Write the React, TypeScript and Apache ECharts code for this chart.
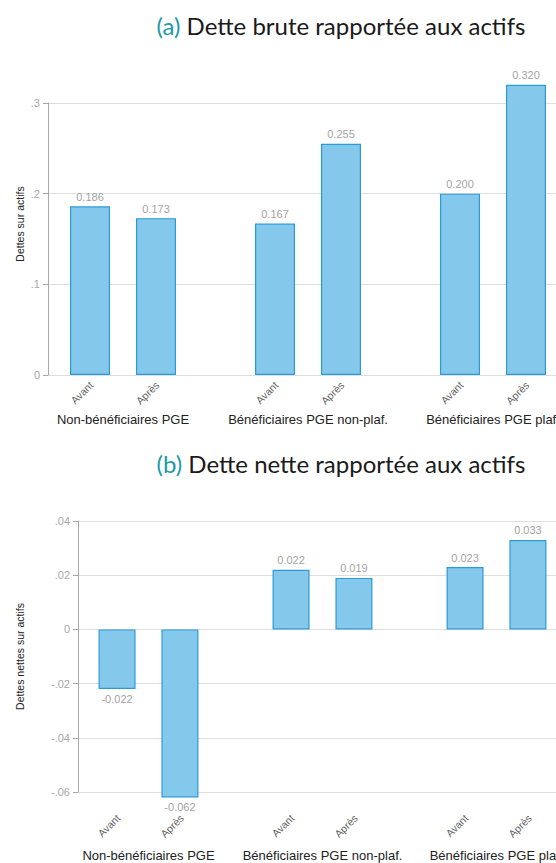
import React, { useEffect, useRef } from "react";
import * as echarts from "echarts";

const groups = ["Non-bénéficiaires PGE", "Bénéficiaires PGE non-plaf.", "Bénéficiaires PGE plaf."];
const periods = ["Avant", "Après"];
const grossBefore = [0.186, 0.167, 0.2];
const grossAfter = [0.173, 0.255, 0.32];
const netBefore = [-0.022, 0.022, 0.023];
const netAfter = [-0.062, 0.019, 0.033];
const titleA = "Dette brute rapportée aux actifs";
const titleB = "Dette nette rapportée aux actifs";
const nameA = "Dettes sur actifs";
const nameB = "Dettes nettes sur actifs";

const FILL = "#84c8ec";
const EDGE = "#2b9bd8";
const SANS = "'Liberation Sans', Arial, sans-serif";

function fmtTick(v: number) {
  const s = String(Number(v.toFixed(3)));
  return s.replace(/^(-?)0\./, "$1.");
}

function barSeries(values: number[], name: string, xi: number, yi: number, width: number, gap: string) {
  return {
    type: "bar",
    name,
    xAxisIndex: xi,
    yAxisIndex: yi,
    barWidth: width,
    barGap: gap,
    clip: false,
    itemStyle: { color: FILL, borderColor: EDGE, borderWidth: 1.2 },
    label: {
      show: true,
      color: "#a3a3a3",
      fontSize: 11,
      fontFamily: SANS,
      distance: 4,
      formatter: (p: any) => Number(p.value).toFixed(3),
    },
    data: values.map((v) => ({ value: v, label: { position: v < 0 ? "bottom" : "top" } })),
  };
}

function periodLabels(text: string, xi: number, yi: number, base: number, pos: number[]) {
  return {
    type: "scatter",
    xAxisIndex: xi,
    yAxisIndex: yi,
    symbolSize: 1,
    silent: true,
    clip: false,
    itemStyle: { color: "rgba(0,0,0,0)" },
    label: {
      show: true,
      formatter: text,
      position: pos,
      rotate: 45,
      align: "right",
      verticalAlign: "middle",
      fontSize: 10.5,
      fontFamily: SANS,
      color: "#333",
    },
    data: groups.map((g) => [g, base]),
  };
}

function valueAxis(grid: number, min: number, max: number, interval: number, name: string, nameGap: number, pad: number[]) {
  return {
    type: "value",
    gridIndex: grid,
    min,
    max,
    interval,
    name,
    nameLocation: "middle",
    nameGap,
    nameMoveOverlap: false,
    nameTextStyle: { fontSize: 10.5, fontFamily: SANS, color: "#222", padding: pad },
    axisLine: { show: true, lineStyle: { color: "#a8a8a8", width: 1 } },
    axisTick: { show: true, length: 5, lineStyle: { color: "#a8a8a8" } },
    axisLabel: { color: "#a8a8a8", fontSize: 11, fontFamily: SANS, margin: 8, formatter: fmtTick },
    splitLine: { show: true, lineStyle: { color: "#dedede", width: 1 } },
  };
}

export default function App() {
  const ref = useRef<HTMLDivElement>(null);
  useEffect(() => {
    if (!ref.current) return;
    const chart = echarts.init(ref.current, null, { renderer: "svg" });
    const titleStyle = {
      fontFamily: "Lato",
      fontSize: 24,
      fontWeight: "normal",
      color: "#1a1a1a",
      rich: { a: { fontFamily: "Lato", fontSize: 24, color: "#1b9aaa" } },
    };
    chart.setOption({
      animation: false,
      backgroundColor: "#ffffff",
      title: [
        { text: "{a|(a)} " + titleA, left: "center", top: 8, textStyle: titleStyle },
        { text: "{a|(b)} " + titleB, left: "center", top: 446, textStyle: titleStyle },
      ],
      grid: [
        { left: 48, top: 103, width: 520, height: 272 },
        { left: 30.5, top: 103, width: 555, height: 272 },
        { left: 78, top: 521, width: 490, height: 271 },
        { left: 61.5, top: 521, width: 522, height: 271 },
      ],
      xAxis: [
        { type: "value", gridIndex: 0, show: false, min: 0, max: 1 },
        {
          type: "category",
          gridIndex: 1,
          data: groups,
          axisLine: { show: false },
          axisTick: { show: false },
          axisLabel: { margin: 38, fontSize: 13, fontFamily: SANS, color: "#222", interval: 0 },
        },
        { type: "value", gridIndex: 2, show: false, min: 0, max: 1 },
        {
          type: "category",
          gridIndex: 3,
          data: groups,
          axisLine: { show: false },
          axisTick: { show: false },
          axisLabel: { margin: 57, fontSize: 13, fontFamily: SANS, color: "#222", interval: 0 },
        },
      ],
      yAxis: [
        valueAxis(0, 0, 0.3, 0.1, nameA, 23, [0, 0, 0, 30]),
        { type: "value", gridIndex: 1, min: 0, max: 0.3, show: false },
        valueAxis(2, -0.06, 0.04, 0.02, nameB, 53, [0, 0, 0, 0]),
        { type: "value", gridIndex: 3, min: -0.06, max: 0.04, show: false },
      ],
      series: [
        barSeries(grossBefore, periods[0], 1, 1, 40, "65%"),
        barSeries(grossAfter, periods[1], 1, 1, 40, "65%"),
        barSeries(netBefore, periods[0], 3, 3, 37, "70%"),
        barSeries(netAfter, periods[1], 3, 3, 37, "70%"),
        periodLabels(periods[0], 1, 1, 0, [-31, 9]),
        periodLabels(periods[1], 1, 1, 0, [35, 9]),
        periodLabels(periods[0], 3, 3, -0.06, [-29.5, 25]),
        periodLabels(periods[1], 3, 3, -0.06, [34, 25]),
      ],
    });
    return () => chart.dispose();
  }, []);
  return (
    <div style={{ position: "fixed", left: 0, top: 0, width: 556, height: 863, overflow: "hidden", background: "#fff" }}>
      <div ref={ref} style={{ width: 682, height: 863 }} />
    </div>
  );
}
